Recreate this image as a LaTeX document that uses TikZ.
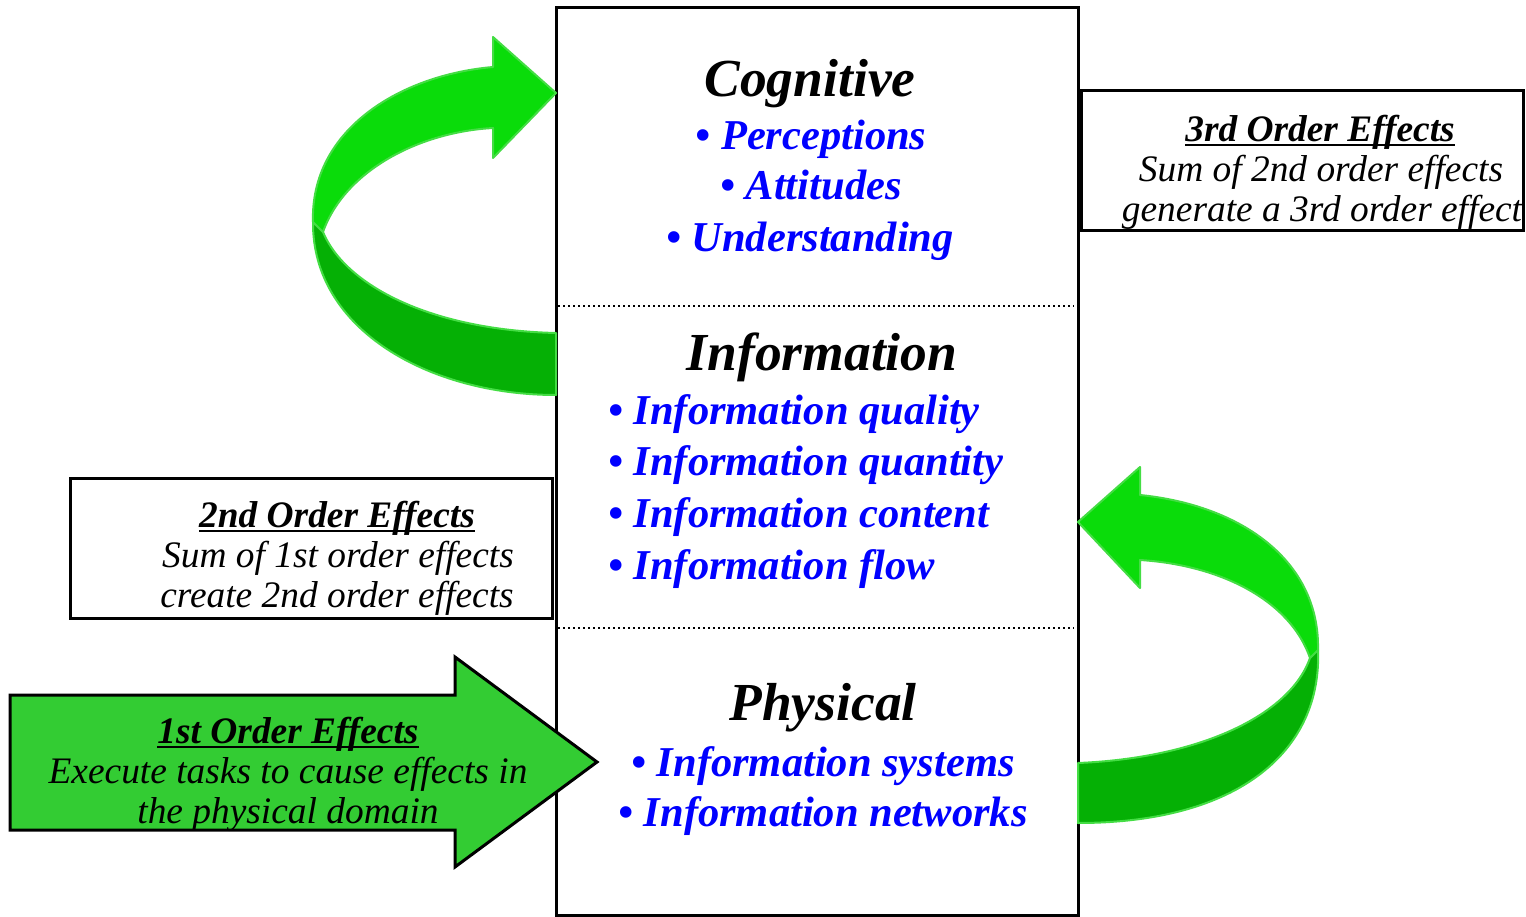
\documentclass[tikz,border=0pt]{standalone}
\usepackage{fontspec}
\setmainfont{Liberation Serif}
\definecolor{arrowfill}{HTML}{33CC33}
\definecolor{bandlight}{HTML}{0ADC0A}
\definecolor{banddark}{HTML}{05B005}
\definecolor{bandedge}{HTML}{44DD44}
\definecolor{itemblue}{HTML}{0000FF}
\newcommand\ulthick[1]{\setbox0\hbox{#1}\rlap{\copy0}\rule[-4.5pt]{\wd0}{2pt}}
\tikzset{
  heading/.style={anchor=base, font=\fontsize{53.5}{58}\selectfont\bfseries\itshape, text=black, inner sep=0pt},
  item/.style={anchor=base, font=\fontsize{42.5}{46}\selectfont\bfseries\itshape, text=itemblue, inner sep=0pt},
  itemleft/.style={item, anchor=base west},
  boxtitle/.style={anchor=base, font=\fontsize{37.4}{41}\selectfont\bfseries\itshape, inner sep=0pt},
  boxtext/.style={anchor=base, font=\fontsize{37.4}{41}\selectfont\itshape, inner sep=0pt},
  effectbox/.style={draw=black, line width=3pt, fill=white},
  divider/.style={line width=2pt, dash pattern=on 2pt off 3pt},
  lightband/.style={fill=bandlight, draw=bandedge, line width=2pt, line join=round},
  darkband/.style={fill=banddark, draw=bandedge, line width=2pt, line join=round}
}
\begin{document}
\begin{tikzpicture}[x=1pt,y=-1pt]
\useasboundingbox (0,0) rectangle (1526,917);
% main box
\draw[line width=3pt] (556,8) rectangle (1078,915);
\coordinate (d1l) at (558,306); \coordinate (d1r) at (1074,306);
\coordinate (d2l) at (558,628); \coordinate (d2r) at (1074,628);
\draw[divider] (d1l) -- (d1r);
\draw[divider] (d2l) -- (d2r);

% left curved arrow
\draw[darkband] (313,222) .. controls (312,330) and (430,395) .. (556,395) -- (556,333) .. controls (430,330) and (345,285) .. (323,232) -- cycle;
\draw[lightband] (313,222) .. controls (310,130) and (400,75) .. (493,67) -- (493,37) -- (556,93) -- (493,158) -- (493,128) .. controls (420,132) and (345,170) .. (323,232) -- cycle;

% right curved arrow
\draw[darkband] (1318,650) .. controls (1322,750) and (1240,823) .. (1078,823) -- (1078,763) .. controls (1200,758) and (1290,715) .. (1310,658) -- cycle;
\draw[lightband] (1318,650) .. controls (1320,560) and (1240,505) .. (1140,495) -- (1140,467) -- (1078,522) -- (1140,588) -- (1140,560) .. controls (1220,565) and (1290,600) .. (1310,658) -- cycle;

% effect boxes
\node[effectbox, minimum width=442pt, minimum height=140pt, inner sep=0pt] (third) at (1302,161) {};
\node[effectbox, minimum width=482pt, minimum height=140pt, inner sep=0pt] (second) at (311,548) {};

% first order arrow
\draw[line width=3pt, fill=arrowfill, line join=miter] (10,695) -- (455,695) -- (455,657) -- (597,762) -- (455,867) -- (455,830) -- (10,830) -- cycle;

% main box texts
\node[heading] (cog) at (810,97) {Cognitive};
\node[item] (perc) at (811,150) {• Perceptions};
\node[item] (att) at (811,200) {• Attitudes};
\node[item] (und) at (810,252) {• Understanding};

\node[heading] (inf) at (822,370) {Information};
\node[itemleft] (iq1) at (608,424) {• Information quality};
\node[itemleft] (iq2) at (608,475) {• Information quantity};
\node[itemleft] (ic) at (608,527) {• Information content};
\node[itemleft] (ifl) at (608,579) {• Information flow};

\node[heading] (phy) at (823,720) {Physical};
\node[item] (isys) at (823,776) {• Information systems};
\node[item] (inet) at (823,826) {• Information networks};

% third order text
\node[boxtitle] (t3) at (1320,142) {\ulthick{3rd Order Effects}};
\node[boxtext] (t3a) at (1321,182) {Sum of 2nd order effects};
\node[boxtext] (t3b) at (1322,222) {generate a 3rd order effect};

% second order text
\node[boxtitle] (t2) at (337,527) {\ulthick{2nd Order Effects}};
\node[boxtext] (t2a) at (338,567) {Sum of 1st order effects};
\node[boxtext] (t2b) at (337,607) {create 2nd order effects};

% first order text
\node[boxtitle] (t1) at (288,743) {\ulthick{1st Order Effects}};
\node[boxtext] (t1a) at (288,783) {Execute tasks to cause effects in};
\node[boxtext] (t1b) at (288,823) {the physical domain};
\end{tikzpicture}
\end{document}
